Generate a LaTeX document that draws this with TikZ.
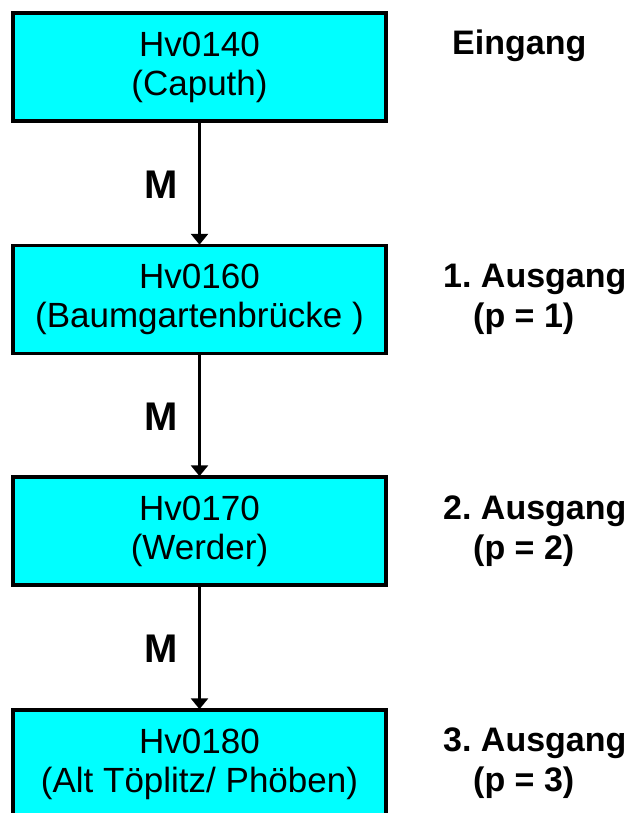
\documentclass[tikz,border=0pt]{standalone}
\usepackage{fontspec}
\setmainfont{Liberation Sans}
\usetikzlibrary{arrows.meta}
\definecolor{boxcyan}{RGB}{0,255,255}
\tikzset{
  stationbox/.style={draw=black, line width=3.5pt, fill=boxcyan, minimum width=373pt, minimum height=108pt, align=center, inner sep=0pt, font=\fontsize{35}{39}\selectfont},
  sidelabel/.style={anchor=base west, inner sep=0pt, font=\fontsize{34}{40}\selectfont\bfseries\frenchspacing},
  mlabel/.style={inner sep=0pt, font=\fontsize{40}{40}\selectfont\bfseries},
  flow/.style={line width=3.5pt, -{Triangle[width=17pt,length=11pt]}, shorten >=-1pt}
}
\begin{document}
\begin{tikzpicture}[x=1pt,y=-1pt]
\useasboundingbox (0,0) rectangle (628,813);
\node[stationbox] (b1) at (199.5,67) {Hv0140\\(Caputh)};
\node[stationbox] (b2) at (199.5,299.5) {Hv0160\\(Baumgartenbrücke )};
\node[stationbox] (b3) at (199.5,531) {Hv0170\\(Werder)};
\node[stationbox] (b4) at (199.5,764) {Hv0180\\(Alt Töplitz/ Phöben)};
\draw[flow] (b1) -- (b2);
\draw[flow] (b2) -- (b3);
\draw[flow] (b3) -- (b4);
\node[mlabel] (m1) at (161.5,185) {M};
\node[mlabel] (m2) at (161.5,417) {M};
\node[mlabel] (m3) at (161.5,649) {M};
\node[sidelabel] (e0) at (452,55) {Eingang};
\node[sidelabel] (a1) at (443,287) {1. Ausgang};
\node[sidelabel] (p1) at (473,327) {(p = 1)};
\node[sidelabel] (a2) at (443,519) {2. Ausgang};
\node[sidelabel] (p2) at (473,559) {(p = 2)};
\node[sidelabel] (a3) at (443,751) {3. Ausgang};
\node[sidelabel] (p3) at (473,791) {(p = 3)};
\end{tikzpicture}
\end{document}
